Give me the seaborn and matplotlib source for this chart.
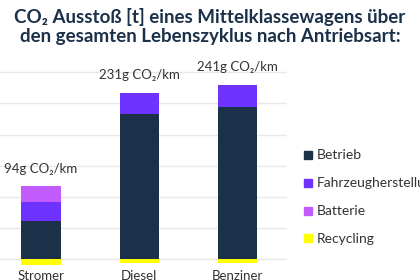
import matplotlib
matplotlib.use("Agg")
import matplotlib.pyplot as plt
import seaborn as sns
import numpy as np
import pandas as pd
from matplotlib.lines import Line2D

categories = ["Stromer", "Diesel", "Benziner"]
betrieb = [12.4, 46.5, 48.9]
fahrzeug = [6.1, 7.0, 7.1]
batterie = [4.9, 0.0, 0.0]
recycling = [-1.8, -1.1, -1.3]
labels = ["94g CO\u2082/km", "231g CO\u2082/km", "241g CO\u2082/km"]
series_names = ["Betrieb", "Fahrzeugherstellung", "Batterie", "Recycling"]
colors = ["#1b3049", "#6e33ff", "#c35cff", "#ffff00"]
title = "CO\u2082 Aussto\u00df [t] eines Mittelklassewagens \u00fcber\nden gesamten Lebenszyklus nach Antriebsart:"

sns.set_theme(style="white")
plt.rcParams['font.family'] = ['Lato', 'DejaVu Sans']

fig = plt.figure(figsize=(4.2, 2.8), dpi=100)
ax = fig.add_axes([0.0, 0.0518, 0.683, 0.7346])

df = pd.DataFrame({"cat": categories, "betrieb": betrieb, "fahrzeug": fahrzeug,
                   "batterie": batterie, "recycling": recycling})
b1 = np.array(betrieb)
b2 = b1 + np.array(fahrzeug)

sns.barplot(data=df, x="cat", y="betrieb", color=colors[0], width=0.4, ax=ax,
            saturation=1, linewidth=0)
sns.barplot(data=df, x="cat", y="fahrzeug", color=colors[1], width=0.4, ax=ax,
            saturation=1, bottom=b1, linewidth=0)
sns.barplot(data=df, x="cat", y="batterie", color=colors[2], width=0.4, ax=ax,
            saturation=1, bottom=b2, linewidth=0)
sns.barplot(data=df, x="cat", y="recycling", color=colors[3], width=0.4, ax=ax,
            saturation=1, linewidth=0)

tops = b2 + np.array(batterie)
for i, (t, lab) in enumerate(zip(tops, labels)):
    ax.annotate(lab, (i, t), xytext=(0, 8.5), textcoords="offset points",
                ha="center", va="bottom", fontsize=9.5, color="#333333")

ax.set_xlim(-0.417, 2.5)
ax.set_ylim(-2, 64)
ax.set_yticks([0, 10, 20, 30, 40, 50, 60])
ax.set_yticklabels([])
ax.yaxis.grid(True, color="#e8e8e8", linewidth=1)
ax.set_axisbelow(True)
ax.set_xlabel("")
ax.set_ylabel("")
ax.tick_params(axis="x", length=0, pad=3, labelsize=9.5, labelcolor="#333333")
ax.tick_params(axis="y", length=0)
for s in ax.spines.values():
    s.set_visible(False)

handles = [Line2D([], [], marker="s", linestyle="", markersize=6,
                  markerfacecolor=c, markeredgecolor=c) for c in colors]
fig.legend(handles, series_names, loc="center left", bbox_to_anchor=(0.71, 0.295),
           frameon=False, fontsize=10, labelcolor="#333333", handlelength=0.6,
           handletextpad=0.3, labelspacing=1.15, borderaxespad=0)

fig.text(0.5, 0.905, title, ha="center", va="center", fontsize=13.5,
         fontweight="bold", color="#1b3049", linespacing=1.15)

fig.savefig("out.png", dpi=100)
